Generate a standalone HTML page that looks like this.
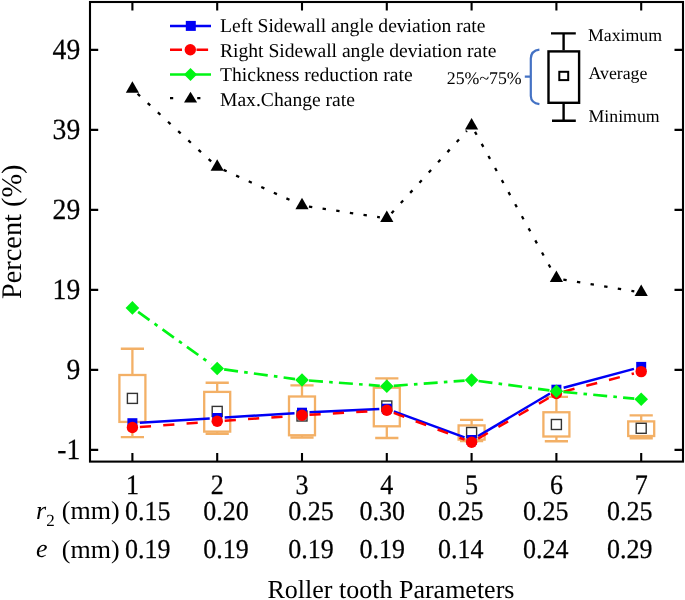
<!DOCTYPE html>
<html><head><meta charset="utf-8"><style>
html,body{margin:0;padding:0;background:#fff;}
body{width:685px;height:600px;overflow:hidden;}
svg{display:block;text-rendering:geometricPrecision;will-change:transform;}
</style></head><body>
<svg width="685" height="600" viewBox="0 0 685 600">
<path d="M120.8,348.75H144M132.4,348.75V375M132.4,421.9V437.1M120.8,437.1H144" stroke="#F3B066" stroke-width="2.3" fill="none"/>
<rect x="119.4" y="375" width="26" height="46.9" stroke="#F3B066" stroke-width="2.3" fill="none"/>
<rect x="127.4" y="393.4" width="10" height="10" stroke="#333" stroke-width="1.4" fill="none"/>
<path d="M205.6,382.75H228.8M217.2,382.75V391.9M217.2,431.6V433.75M205.6,433.75H228.8" stroke="#F3B066" stroke-width="2.3" fill="none"/>
<rect x="204.2" y="391.9" width="26" height="39.7" stroke="#F3B066" stroke-width="2.3" fill="none"/>
<rect x="212.2" y="406.4" width="10" height="10" stroke="#333" stroke-width="1.4" fill="none"/>
<path d="M290.4,385.4H313.6M302,385.4V396.5M302,435.25V437.5M290.4,437.5H313.6" stroke="#F3B066" stroke-width="2.3" fill="none"/>
<rect x="289" y="396.5" width="26" height="38.75" stroke="#F3B066" stroke-width="2.3" fill="none"/>
<rect x="297" y="411" width="10" height="10" stroke="#333" stroke-width="1.4" fill="none"/>
<path d="M375.2,378.3H398.4M386.8,378.3V387.7M386.8,426.3V438M375.2,438H398.4" stroke="#F3B066" stroke-width="2.3" fill="none"/>
<rect x="373.8" y="387.7" width="26" height="38.6" stroke="#F3B066" stroke-width="2.3" fill="none"/>
<rect x="381.8" y="401" width="10" height="10" stroke="#333" stroke-width="1.4" fill="none"/>
<path d="M460,419.8H483.2M471.6,419.8V425.4M471.6,439.6V441M460,441H483.2" stroke="#F3B066" stroke-width="2.3" fill="none"/>
<rect x="458.6" y="425.4" width="26" height="14.2" stroke="#F3B066" stroke-width="2.3" fill="none"/>
<rect x="466.6" y="427.5" width="10" height="10" stroke="#333" stroke-width="1.4" fill="none"/>
<path d="M544.8,396.9H568M556.4,396.9V412.25M556.4,436.5V441.25M544.8,441.25H568" stroke="#F3B066" stroke-width="2.3" fill="none"/>
<rect x="543.4" y="412.25" width="26" height="24.25" stroke="#F3B066" stroke-width="2.3" fill="none"/>
<rect x="551.4" y="419.5" width="10" height="10" stroke="#333" stroke-width="1.4" fill="none"/>
<path d="M629.6,415.4H652.8M641.2,415.4V421.4M641.2,436V438.25M629.6,438.25H652.8" stroke="#F3B066" stroke-width="2.3" fill="none"/>
<rect x="628.2" y="421.4" width="26" height="14.6" stroke="#F3B066" stroke-width="2.3" fill="none"/>
<rect x="636.2" y="423.3" width="10" height="10" stroke="#333" stroke-width="1.4" fill="none"/>
<path d="M139.89,422.74L209.71,418.46" stroke="#0000F5" stroke-width="2.5" fill="none"/>
<path d="M224.69,417.53L294.51,413.17" stroke="#0000F5" stroke-width="2.5" fill="none"/>
<path d="M309.49,412.35L379.31,409.05" stroke="#0000F5" stroke-width="2.5" fill="none"/>
<path d="M393.84,411.3L464.56,437.4" stroke="#0000F5" stroke-width="2.5" fill="none"/>
<path d="M478.05,436.17L549.95,393.53" stroke="#0000F5" stroke-width="2.5" fill="none"/>
<path d="M563.64,387.75L633.96,368.85" stroke="#0000F5" stroke-width="2.5" fill="none"/>
<path d="M139.88,426.95L209.72,421.85" stroke="#FF0000" stroke-width="2.5" fill="none" stroke-dasharray="11.2 12.2"/>
<path d="M224.68,420.77L294.52,415.83" stroke="#FF0000" stroke-width="2.5" fill="none" stroke-dasharray="11.2 12.2"/>
<path d="M309.49,414.86L379.31,410.74" stroke="#FF0000" stroke-width="2.5" fill="none" stroke-dasharray="11.2 12.2"/>
<path d="M393.82,412.95L464.58,439.65" stroke="#FF0000" stroke-width="2.5" fill="none" stroke-dasharray="11.2 12.2"/>
<path d="M478.1,438.56L549.9,397.24" stroke="#FF0000" stroke-width="2.5" fill="none" stroke-dasharray="11.2 12.2"/>
<path d="M563.66,391.62L633.94,373.48" stroke="#FF0000" stroke-width="2.5" fill="none" stroke-dasharray="11.2 12.2"/>
<path d="M138.1,311.97L211.5,364.43" stroke="#00F514" stroke-width="2.7" fill="none" stroke-dasharray="14 6.2 3.6 6.2"/>
<path d="M224.14,369.44L295.06,379.06" stroke="#00F514" stroke-width="2.7" fill="none" stroke-dasharray="14 6.2 3.6 6.2"/>
<path d="M308.98,380.52L379.82,385.78" stroke="#00F514" stroke-width="2.7" fill="none" stroke-dasharray="14 6.2 3.6 6.2"/>
<path d="M393.78,385.79L464.62,380.61" stroke="#00F514" stroke-width="2.7" fill="none" stroke-dasharray="14 6.2 3.6 6.2"/>
<path d="M478.54,381.02L549.46,390.38" stroke="#00F514" stroke-width="2.7" fill="none" stroke-dasharray="14 6.2 3.6 6.2"/>
<path d="M563.37,391.96L634.23,398.64" stroke="#00F514" stroke-width="2.7" fill="none" stroke-dasharray="14 6.2 3.6 6.2"/>
<path d="M137.55,93.74L212.05,162.26" stroke="#000" stroke-width="2.3" fill="none" stroke-dasharray="3.4 10.4"/>
<path d="M223.57,169.89L295.63,202.61" stroke="#000" stroke-width="2.3" fill="none" stroke-dasharray="3.4 10.4"/>
<path d="M308.92,206.55L379.88,217.35" stroke="#000" stroke-width="2.3" fill="none" stroke-dasharray="3.4 10.4"/>
<path d="M391.52,213.24L466.88,130.86" stroke="#000" stroke-width="2.3" fill="none" stroke-dasharray="3.4 10.4"/>
<path d="M475,131.82L553,272.28" stroke="#000" stroke-width="2.3" fill="none" stroke-dasharray="3.4 10.4"/>
<path d="M563.31,279.54L634.29,291.26" stroke="#000" stroke-width="2.3" fill="none" stroke-dasharray="3.4 10.4"/>
<rect x="127.4" y="418.2" width="10" height="10" fill="#0000F5"/>
<rect x="212.2" y="413" width="10" height="10" fill="#0000F5"/>
<rect x="297" y="407.7" width="10" height="10" fill="#0000F5"/>
<rect x="381.8" y="403.7" width="10" height="10" fill="#0000F5"/>
<rect x="466.6" y="435" width="10" height="10" fill="#0000F5"/>
<rect x="551.4" y="384.7" width="10" height="10" fill="#0000F5"/>
<rect x="636.2" y="361.9" width="10" height="10" fill="#0000F5"/>
<circle cx="132.4" cy="427.5" r="5.7" fill="#FF0000"/>
<circle cx="217.2" cy="421.3" r="5.7" fill="#FF0000"/>
<circle cx="302" cy="415.3" r="5.7" fill="#FF0000"/>
<circle cx="386.8" cy="410.3" r="5.7" fill="#FF0000"/>
<circle cx="471.6" cy="442.3" r="5.7" fill="#FF0000"/>
<circle cx="556.4" cy="393.5" r="5.7" fill="#FF0000"/>
<circle cx="641.2" cy="371.6" r="5.7" fill="#FF0000"/>
<path d="M132.4,301.1L139.2,307.9L132.4,314.7L125.6,307.9Z" fill="#00F514"/>
<path d="M217.2,361.7L224,368.5L217.2,375.3L210.4,368.5Z" fill="#00F514"/>
<path d="M302,373.2L308.8,380L302,386.8L295.2,380Z" fill="#00F514"/>
<path d="M386.8,379.5L393.6,386.3L386.8,393.1L380,386.3Z" fill="#00F514"/>
<path d="M471.6,373.3L478.4,380.1L471.6,386.9L464.8,380.1Z" fill="#00F514"/>
<path d="M556.4,384.5L563.2,391.3L556.4,398.1L549.6,391.3Z" fill="#00F514"/>
<path d="M641.2,392.5L648,399.3L641.2,406.1L634.4,399.3Z" fill="#00F514"/>
<path d="M132.4,81.2L139,92.7L125.8,92.7Z" fill="#000"/>
<path d="M217.2,159.2L223.8,170.7L210.6,170.7Z" fill="#000"/>
<path d="M302,197.7L308.6,209.2L295.4,209.2Z" fill="#000"/>
<path d="M386.8,210.6L393.4,222.1L380.2,222.1Z" fill="#000"/>
<path d="M471.6,117.9L478.2,129.4L465,129.4Z" fill="#000"/>
<path d="M556.4,270.6L563,282.1L549.8,282.1Z" fill="#000"/>
<path d="M641.2,284.6L647.8,296.1L634.6,296.1Z" fill="#000"/>
<path d="M90,449.9H98.2M683,449.9H674.5M90,369.9H98.2M683,369.9H674.5M90,289.9H98.2M683,289.9H674.5M90,209.9H98.2M683,209.9H674.5M90,129.9H98.2M683,129.9H674.5M90,49.9H98.2M683,49.9H674.5M132.4,2V10.6M132.4,461.6V453.1M217.2,2V10.6M217.2,461.6V453.1M302,2V10.6M302,461.6V453.1M386.8,2V10.6M386.8,461.6V453.1M471.6,2V10.6M471.6,461.6V453.1M556.4,2V10.6M556.4,461.6V453.1M641.2,2V10.6M641.2,461.6V453.1" stroke="#000" stroke-width="2.1" fill="none"/>
<rect x="90" y="2" width="593" height="459.6" stroke="#000" stroke-width="2.1" fill="none"/>
<path d="M170,25.9H211" stroke="#0000F5" stroke-width="2.5"/><rect x="185.8" y="20.9" width="10" height="10" fill="#0000F5"/>
<path d="M170,49.8H182M196.5,49.8H208.1" stroke="#FF0000" stroke-width="2.5"/><circle cx="190.3" cy="49.8" r="5.7" fill="#FF0000"/>
<path d="M170,74.5H211" stroke="#00F514" stroke-width="2.7"/><path d="M190.5,68L197,74.5L190.5,81L184,74.5Z" fill="#00F514"/>
<path d="M170,98.1H173.2M197.2,98.1H200.4" stroke="#000" stroke-width="2.3"/><path d="M190.5,91.8L197.1,102.4L184,102.4Z" fill="#000"/>
<g font-family="Liberation Serif" font-size="19.6" fill="#000"><text x="220" y="32.4">Left Sidewall angle deviation rate</text><text x="220" y="57">Right Sidewall angle deviation rate</text><text x="220" y="81.4">Thickness reduction rate</text><text x="220" y="105.6">Max.Change rate</text></g>
<path d="M551,33.4H575.8M563.6,33.4V50.3M563.6,103.9V120.7M552,120.7H575.8" stroke="#000" stroke-width="2.4" fill="none"/>
<rect x="548.5" y="51.4" width="30.6" height="51.4" stroke="#000" stroke-width="2.4" fill="none"/>
<rect x="559.3" y="71.8" width="8.9" height="8.3" stroke="#000" stroke-width="2" fill="none"/>
<path d="M539.4,49.6 Q531,50.6 530.8,58.5 V96 Q531,103 539.4,104.2 M524.8,76.6 H530.8" stroke="#4472C4" stroke-width="2.2" fill="none"/>
<g font-family="Liberation Serif" font-size="17.8" fill="#000"><text x="588" y="40.5">Maximum</text><text x="588.5" y="79.3">Average</text><text x="588.5" y="121.7">Minimum</text><text x="446.8" y="84.1">25%~75%</text></g>
<g font-family="Liberation Serif" stroke="#000" stroke-width="0.25" font-size="27.6" fill="#000" text-anchor="end">
<text transform="translate(80.2,458.7) scale(1,1.06)">-1</text>
<text transform="translate(80.2,378.7) scale(1,1.06)">9</text>
<text transform="translate(80.2,298.7) scale(1,1.06)">19</text>
<text transform="translate(80.2,218.7) scale(1,1.06)">29</text>
<text transform="translate(80.2,138.7) scale(1,1.06)">39</text>
<text transform="translate(80.2,58.7) scale(1,1.06)">49</text>
</g>
<g font-family="Liberation Serif" stroke="#000" stroke-width="0.25" font-size="26" fill="#000" text-anchor="middle">
<text transform="translate(132.4,494) scale(1,1.08)">1</text>
<text transform="translate(217.2,494) scale(1,1.08)">2</text>
<text transform="translate(302,494) scale(1,1.08)">3</text>
<text transform="translate(386.8,494) scale(1,1.08)">4</text>
<text transform="translate(471.6,494) scale(1,1.08)">5</text>
<text transform="translate(556.4,494) scale(1,1.08)">6</text>
<text transform="translate(641.2,494) scale(1,1.08)">7</text>
</g>
<g font-family="Liberation Serif" stroke="#000" stroke-width="0.25" font-size="26" fill="#000">
<text transform="translate(125,519.6) scale(1,1.05)">0.15</text>
<text transform="translate(203.2,519.6) scale(1,1.05)">0.20</text>
<text transform="translate(288.3,519.6) scale(1,1.05)">0.25</text>
<text transform="translate(359.5,519.6) scale(1,1.05)">0.30</text>
<text transform="translate(438,519.6) scale(1,1.05)">0.25</text>
<text transform="translate(523,519.6) scale(1,1.05)">0.25</text>
<text transform="translate(607.1,519.6) scale(1,1.05)">0.25</text>
<text transform="translate(125,558) scale(1,1.05)">0.19</text>
<text transform="translate(203.2,558) scale(1,1.05)">0.19</text>
<text transform="translate(288.3,558) scale(1,1.05)">0.19</text>
<text transform="translate(359.5,558) scale(1,1.05)">0.19</text>
<text transform="translate(438,558) scale(1,1.05)">0.14</text>
<text transform="translate(523,558) scale(1,1.05)">0.24</text>
<text transform="translate(607.1,558) scale(1,1.05)">0.29</text>
</g>
<g font-family="Liberation Serif" font-size="26" fill="#000">
<text x="36" y="519" font-style="italic">r</text><text x="46.2" y="526" font-size="17">2</text>
<text x="61.8" y="519.4">(mm)</text>
<text x="36" y="557.4" font-style="italic">e</text>
<text x="61.8" y="557.8">(mm)</text>
<text x="267.5" y="598">Roller tooth Parameters</text>
</g>
<text font-family="Liberation Serif" font-size="28.35" transform="translate(20.8,299) rotate(-90)">Percent (%)</text>
</svg>
</body></html>
